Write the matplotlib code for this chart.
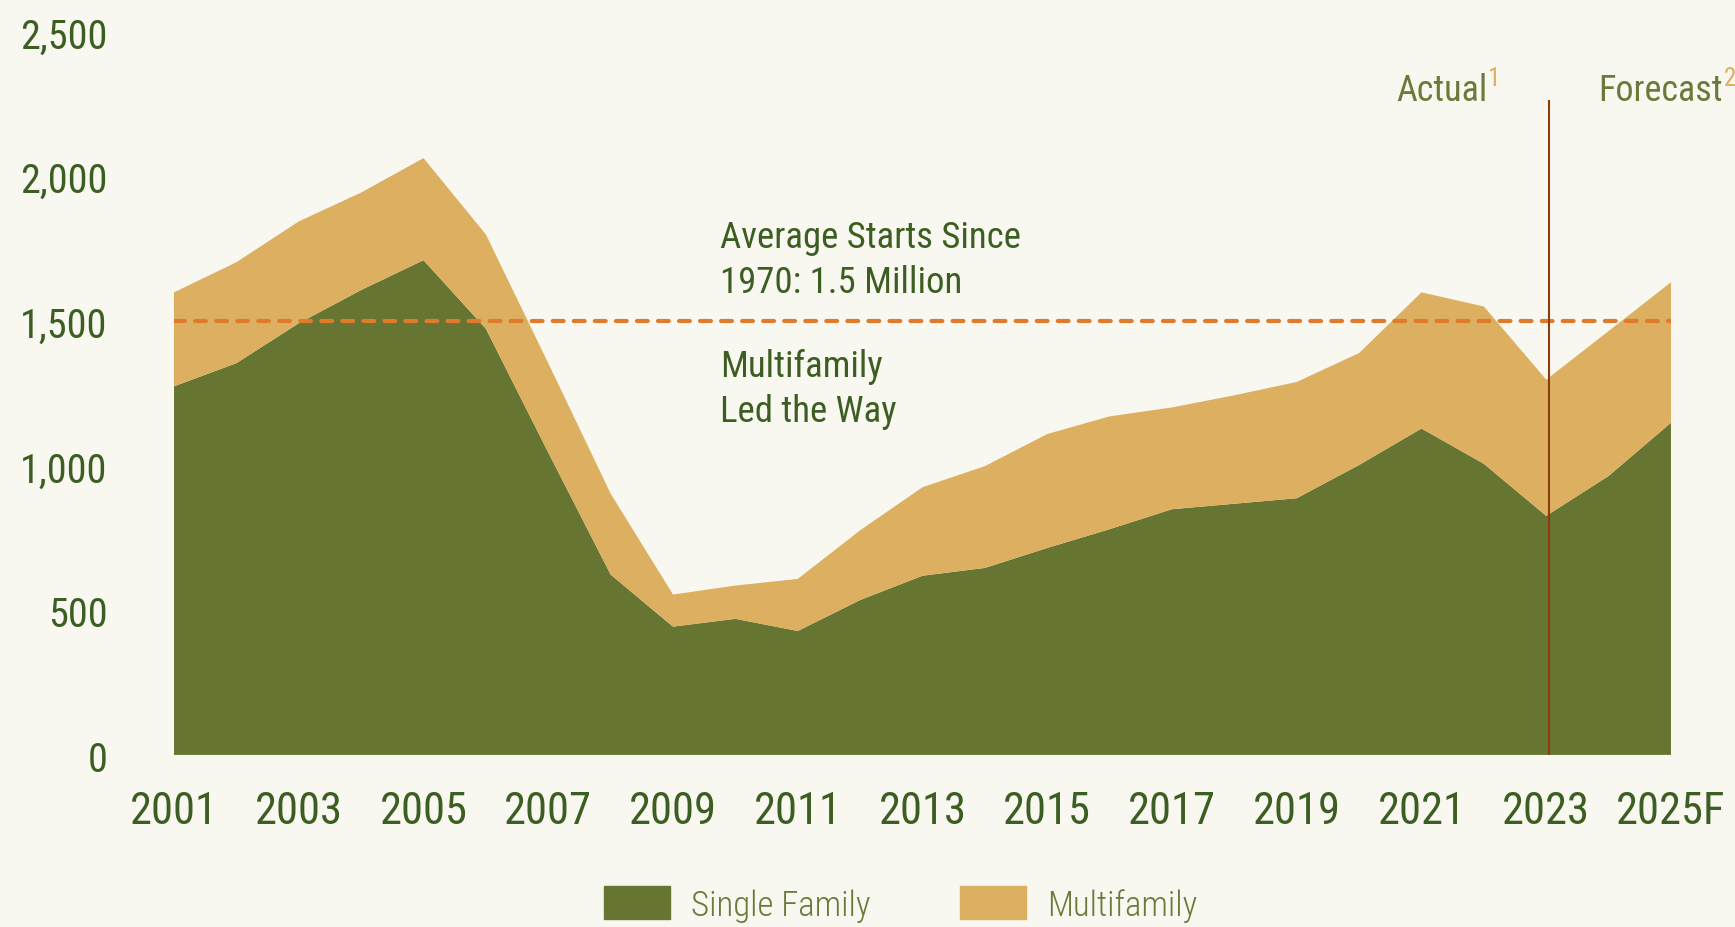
import matplotlib
matplotlib.use("Agg")
import matplotlib.pyplot as plt
import numpy as np
from matplotlib.patches import Patch

# Housing starts, thousands of units
years = list(range(2001, 2026))
single_family = [1275, 1355, 1493, 1608, 1711, 1474, 1046, 624, 444, 471, 429, 536, 620,
                 647, 716, 781, 850, 869, 888, 1003, 1129, 1007, 827, 965, 1149]
multifamily = [325, 349, 352, 337, 353, 326, 309, 280, 111, 115, 180, 241, 306,
               352, 394, 390, 352, 375, 402, 387, 471, 544, 471, 501, 486]
tick_years = list(range(2001, 2026, 2))
tick_labels = [str(y) for y in tick_years[:-1]] + ["2025F"]
y_ticks = [0, 500, 1000, 1500, 2000, 2500]
average_since_1970 = 1500
split_year = 2023

BG = "#f8f8f0"
SF_COLOR = "#677532"
MF_COLOR = "#dcaf61"
DARK_GREEN = "#3d5e22"
OLIVE = "#6b7a3a"
ORANGE = "#e07b2c"
BROWN = "#8b3d0c"

plt.rcParams["font.family"] = ["Roboto Condensed", "Archivo Narrow", "Liberation Sans Narrow",
                               "DejaVu Sans"]

fig = plt.figure(figsize=(17.35, 9.28), dpi=100, facecolor=BG)
ax = fig.add_axes([0.1003, 0.1853, 0.8628, 0.7791])
ax.set_facecolor(BG)

ax.stackplot(years, single_family, multifamily, colors=[SF_COLOR, MF_COLOR],
             linewidth=0)
ax.plot([years[0], years[-1]], [0, 0], color="#a5b07a", linewidth=1)

# average line
ax.plot([years[0], years[-1]], [average_since_1970] * 2, color=ORANGE, linewidth=3,
        dashes=(2.6, 2.45), dash_capstyle="round")

# actual / forecast divider (sits a hair right of the 2023 point)
ax.vlines(split_year + 0.05, 0, 2266, color=BROWN, linewidth=1.5)

ax.set_xlim(years[0], years[-1])
ax.set_ylim(0, 2500)
ax.set_xticks(tick_years)
ax.set_xticklabels(tick_labels)
ax.set_yticks(y_ticks)
ax.set_yticklabels([f"{v:,}" for v in y_ticks])
ax.tick_params(axis="x", length=0, pad=25, labelsize=32, labelcolor=DARK_GREEN)
ax.tick_params(axis="y", length=0, pad=48, labelsize=29, labelcolor=DARK_GREEN)
for s in ax.spines.values():
    s.set_visible(False)

ax.text(2009.76, 1793, "Average Starts Since", fontsize=26.5, color=DARK_GREEN, va="center")
ax.text(2009.76, 1635, "1970: 1.5 Million", fontsize=26.5, color=DARK_GREEN, va="center")
ax.text(2009.76, 1345, "Multifamily", fontsize=26.5, color=DARK_GREEN, va="center")
ax.text(2009.76, 1188, "Led the Way", fontsize=26.5, color=DARK_GREEN, va="center")

t1 = ax.text(2020.6, 2300, "Actual", fontsize=26, color=OLIVE, va="center", clip_on=False)
ax.annotate("1", xy=(1.0, 0.5), xycoords=t1, fontsize=18, color=MF_COLOR,
            xytext=(0.5, 0), textcoords="offset points", va="bottom", annotation_clip=False)
t2 = ax.text(2023.84, 2300, "Forecast", fontsize=26, color=OLIVE, va="center", clip_on=False)
ax.annotate("2", xy=(1.0, 0.5), xycoords=t2, fontsize=18, color=MF_COLOR,
            xytext=(0.5, 0), textcoords="offset points", va="bottom", annotation_clip=False)

handles = [Patch(color=SF_COLOR, label="Single Family"),
           Patch(color=MF_COLOR, label="Multifamily")]
leg = fig.legend(handles=handles, loc="center", bbox_to_anchor=(0.519, 0.025), ncol=2,
                 frameon=False, prop={"size": 25, "weight": "light"}, handlelength=1.9,
                 handleheight=1.1, handletextpad=0.6, columnspacing=2.6)
for txt in leg.get_texts():
    txt.set_color(OLIVE)

fig.savefig("out.png", dpi=100, facecolor=BG)
